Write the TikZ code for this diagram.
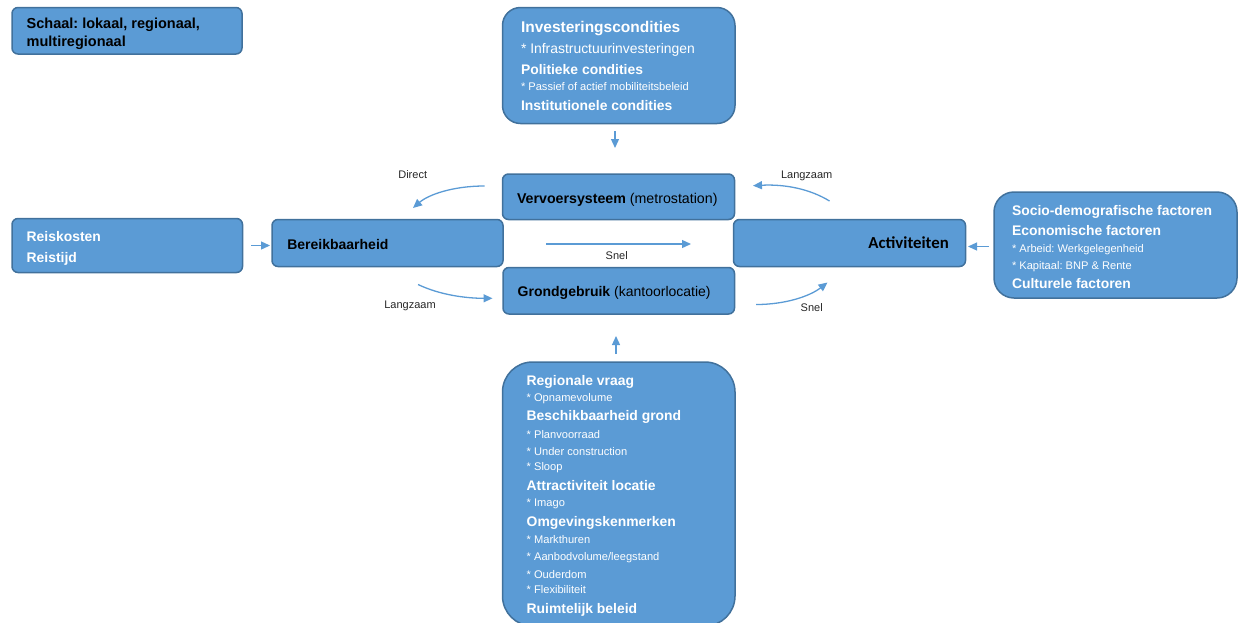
\documentclass[tikz,border=0pt]{standalone}
\usepackage{fontspec}
\setmainfont{Liberation Sans}
\newfontfamily\calibrifont{Carlito}
\usetikzlibrary{arrows.meta}
\frenchspacing

\definecolor{boxfill}{HTML}{5B9BD5}
\definecolor{boxline}{HTML}{41719C}
\definecolor{flowblue}{HTML}{5B9BD5}

% font switches (sizes in pt; one pt is one unit of the picture)
\newcommand\hdbig{\fontsize{15.5}{18}\selectfont\bfseries}
\newcommand\hd{\fontsize{13.9}{16}\selectfont\bfseries}
\newcommand\subbig{\fontsize{13.9}{16}\selectfont}
\newcommand\subsmall{\fontsize{11.1}{13}\selectfont}

\tikzset{
  panel/.style={draw=boxline, line width=1.5pt, fill=boxfill,
    rounded corners=#1, anchor=north west, inner sep=0pt, outer sep=0pt},
  panel/.default=6pt,
  linetxt/.style={anchor=base west, inner sep=0pt, outer sep=0pt},
  lbl/.style={anchor=base, inner sep=0pt, text=black!85,
    font=\fontsize{11}{13}\selectfont},
  flow/.style={draw=flowblue, line width=1.3pt,
    -{Triangle[length=9pt,width=8pt]}},
}

\begin{document}
\begin{tikzpicture}[x=1pt,y=-1pt]
\useasboundingbox (0,0) rectangle (1238,622);

% ---------- boxes ----------
\node[panel, minimum width=230pt, minimum height=46.5pt] (schaal) at (12,7.5) {};
\node[panel=18pt, minimum width=232.5pt, minimum height=116pt] (invest) at (502.5,7.5) {};
\node[panel, minimum width=232pt, minimum height=45.5pt] (vervoer) at (502.5,174) {};
\node[panel, minimum width=231pt, minimum height=47pt] (bereik) at (272,219.5) {};
\node[panel, minimum width=231.5pt, minimum height=46.5pt] (grond) at (503,267.5) {};
\node[panel, minimum width=232pt, minimum height=47pt] (activ) at (733.5,219.5) {};
\node[panel, minimum width=230.5pt, minimum height=54pt] (reis) at (12,218.5) {};
\node[panel=20pt, minimum width=243pt, minimum height=106pt] (socio) at (994,192) {};
\node[panel=30pt, minimum width=232.5pt, minimum height=264pt] (region) at (502.5,362) {};

% ---------- box texts ----------
\foreach \yy/\tx [count=\i] in {28.7/{Schaal: lokaal, regionaal,}, 46.7/{multiregionaal}}
  \node[linetxt, font=\fontsize{14.5}{16}\selectfont\bfseries, text=black] (schaal-\i) at (26.7,\yy) {\tx};

\foreach \yy/\tx [count=\i] in {
    32.7/{\hdbig Investeringscondities},
    53.3/{\subbig * Infrastructuurinvesteringen},
    74/{\hd Politieke condities},
    90.7/{\subsmall * Passief of actief mobiliteitsbeleid},
    110/{\hd Institutionele condities}}
  \node[linetxt, text=white] (invest-\i) at (521,\yy) {\tx};

\node[linetxt, text=black, font=\fontsize{14.2}{16}\selectfont] (vervoer-t) at (517,203)
  {\textbf{Vervoersysteem} (metrostation)};
\node[linetxt, text=black, font=\fontsize{14}{16}\selectfont] (bereik-t) at (287.3,249)
  {\textbf{Bereikbaarheid}};
\node[linetxt, text=black, font=\fontsize{14}{16}\selectfont] (grond-t) at (517.7,296.7)
  {\textbf{Grondgebruik} (kantoorlocatie)};
\node[anchor=base east, inner sep=0pt, text=black, font=\calibrifont\fontsize{16.8}{19}\selectfont\bfseries]
  (activ-t) at (949,248.3) {Activiteiten};

\foreach \yy/\tx [count=\i] in {241.7/{Reiskosten}, 262.7/{Reistijd}}
  \node[linetxt, text=white, font=\hd] (reis-\i) at (26.7,\yy) {\tx};

\foreach \yy/\tx [count=\i] in {
    215/{\hd Socio-demografische factoren},
    235/{\hd Economische factoren},
    252.7/{\subsmall * Arbeid: Werkgelegenheid},
    269/{\subsmall * Kapitaal: BNP \& Rente},
    288/{\hd Culturele factoren}}
  \node[linetxt, text=white] (socio-\i) at (1012,\yy) {\tx};

\foreach \yy/\tx [count=\i] in {
    385/{\hd Regionale vraag},
    401.7/{\subsmall * Opnamevolume},
    420.7/{\hd Beschikbaarheid grond},
    438/{\subsmall * Planvoorraad},
    455/{\subsmall * Under construction},
    470.5/{\subsmall * Sloop},
    490/{\hd Attractiviteit locatie},
    506.7/{\subsmall * Imago},
    526.7/{\hd Omgevingskenmerken},
    543/{\subsmall * Markthuren},
    560.7/{\subsmall * Aanbodvolume/leegstand},
    578/{\subsmall * Ouderdom},
    593.5/{\subsmall * Flexibiliteit},
    613/{\hd Ruimtelijk beleid}}
  \node[linetxt, text=white] (region-\i) at (526.7,\yy) {\tx};

% ---------- connector end points ----------
\coordinate (invA) at (615,131);
\coordinate (invB) at (615,148);
\coordinate (regA) at (616,354);
\coordinate (regB) at (616,336);
\coordinate (reisA) at (251,245.5);
\coordinate (reisB) at (270,245.5);
\coordinate (socA) at (989,246.5);
\coordinate (socB) at (968,246.5);
\coordinate (midA) at (546,244);
\coordinate (midB) at (691,244);
\coordinate (dirA) at (484.5,186);
\coordinate (dirB) at (413,208);
\coordinate (lzA) at (829.5,201);
\coordinate (lzB) at (753,185.7);
\coordinate (lbA) at (418,284.5);
\coordinate (lbB) at (492.5,298.3);
\coordinate (snA) at (756,304.5);
\coordinate (snB) at (827.5,282.5);

% ---------- connectors ----------
\draw[flow] (invA) -- (invB);
\draw[flow] (regA) -- (regB);
\draw[flow] (reisA) -- (reisB);
\draw[flow] (socA) -- (socB);
\draw[flow] (midA) -- (midB);
\draw[flow] (dirA) .. controls (452,186) and (428,195) .. (dirB);
\draw[flow] (lzA) .. controls (810,189) and (785,184) .. (lzB);
\draw[flow] (lbA) .. controls (440,295) and (466,298.3) .. (lbB);
\draw[flow] (snA) .. controls (786,304.5) and (810,296) .. (snB);

% ---------- connector labels ----------
\node[lbl] (lbl-direct) at (412.7,178.3) {Direct};
\node[lbl] (lbl-lz-top) at (806.7,178.3) {Langzaam};
\node[lbl] (lbl-snel-mid) at (616.7,259.3) {Snel};
\node[lbl] (lbl-lz-bot) at (410,308.3) {Langzaam};
\node[lbl] (lbl-snel-bot) at (811.7,311.7) {Snel};
\end{tikzpicture}
\end{document}
